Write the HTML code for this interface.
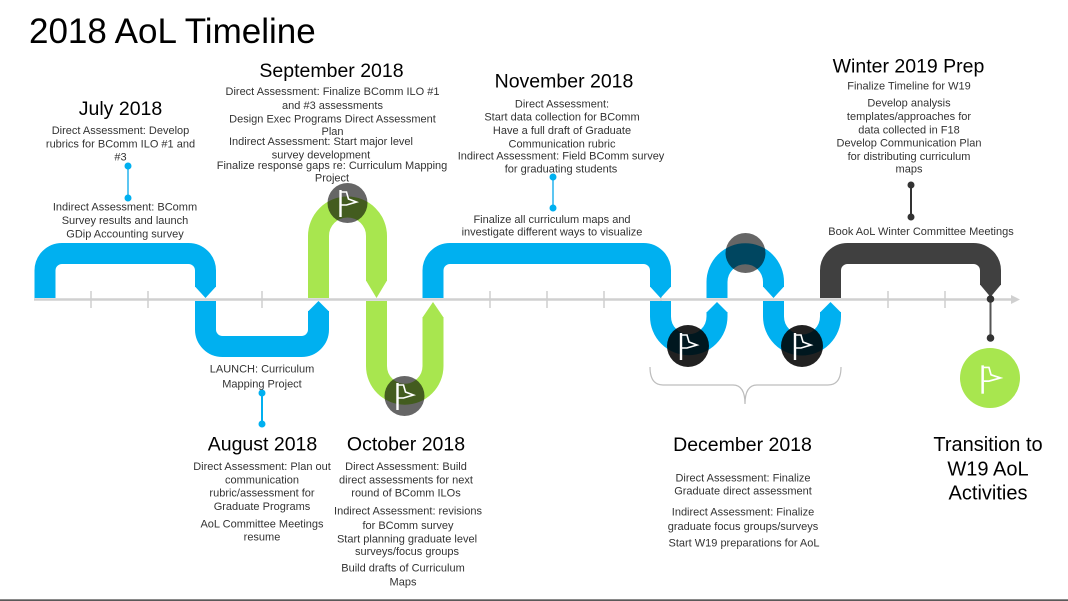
<!DOCTYPE html>
<html>
<head>
<meta charset="utf-8">
<style>
html,body{margin:0;padding:0;background:#fff;}
body{width:1068px;height:601px;overflow:hidden;position:relative;}
svg{position:absolute;left:0;top:0;}
text{font-family:"Liberation Sans",Arial,sans-serif;}
.b{font-size:11px;fill:#333;text-anchor:middle;}
.h{font-size:19.5px;fill:#000;text-anchor:middle;}
</style>
</head>
<body>
<svg width="1068" height="601" viewBox="0 0 1068 601" xmlns="http://www.w3.org/2000/svg">
  <!-- title -->
  <text x="29" y="43" style="font-size:35px;fill:#000;">2018 AoL Timeline</text>

  <!-- ticks -->
  <g stroke="#cfcfcf" stroke-width="1.5">
    <line x1="91" y1="291" x2="91" y2="308"/>
    <line x1="148" y1="291" x2="148" y2="308"/>
    <line x1="262" y1="291" x2="262" y2="308"/>
    <line x1="490" y1="291" x2="490" y2="308"/>
    <line x1="547" y1="291" x2="547" y2="308"/>
    <line x1="604" y1="291" x2="604" y2="308"/>
    <line x1="661" y1="291" x2="661" y2="308"/>
    <line x1="888" y1="291" x2="888" y2="308"/>
    <line x1="945" y1="291" x2="945" y2="308"/>
  </g>

  <!-- axis -->
  <line x1="34" y1="299.5" x2="1012" y2="299.5" stroke="#d0d0d0" stroke-width="2.6"/>
  <polygon points="1011,295 1020,299.5 1011,304" fill="#d0d0d0"/>

  <!-- pipes -->
  <g fill="none" stroke-width="21" stroke-linecap="butt">
    <path d="M45,298 V270.5 A17,17 0 0 1 62,253.5 H188.5 A17,17 0 0 1 205.5,270.5 V287" stroke="#00b0f0"/>
    <path d="M205.5,301 V329.5 A17,17 0 0 0 222.5,346.5 H301.5 A17,17 0 0 0 318.5,329.5 V311" stroke="#00b0f0"/>
    <path d="M318.5,298 V236 A29,29 0 0 1 376.5,236 V281" stroke="#a8e64f"/>
    <path d="M376.5,301 V366 A28.25,28.25 0 0 0 433,366 V317" stroke="#a8e64f"/>
    <path d="M433,298 V270.5 A17,17 0 0 1 450,253.5 H643.5 A17,17 0 0 1 660.5,270.5 V287" stroke="#00b0f0"/>
    <path d="M660.5,301 V316.5 A28.25,28.25 0 0 0 717,316.5 V312" stroke="#00b0f0"/>
    <path d="M717,298 V282 A28.25,28.25 0 0 1 773.5,282 V287" stroke="#00b0f0"/>
    <path d="M773.5,301 V316.5 A28.5,28.5 0 0 0 830.5,316.5 V312" stroke="#00b0f0"/>
    <path d="M830.5,298 V270.5 A17,17 0 0 1 847.5,253.5 H973.5 A17,17 0 0 1 990.5,270.5 V285" stroke="#404040"/>
  </g>
  <!-- pointed ends -->
  <polygon points="195,286.5 216,286.5 205.5,298" fill="#00b0f0"/>
  <polygon points="308,311.5 329,311.5 318.5,301" fill="#00b0f0"/>
  <polygon points="366,280.5 387,280.5 376.5,298" fill="#a8e64f"/>
  <polygon points="422.5,317.5 443.5,317.5 433,302" fill="#a8e64f"/>
  <polygon points="650,286.5 671,286.5 660.5,298" fill="#00b0f0"/>
  <polygon points="706.5,312.5 727.5,312.5 717,302" fill="#00b0f0"/>
  <polygon points="763,286.5 784,286.5 773.5,298" fill="#00b0f0"/>
  <polygon points="820,312.5 841,312.5 830.5,302" fill="#00b0f0"/>
  <polygon points="980,284.5 1001,284.5 990.5,297" fill="#404040"/>

  <!-- circles -->
  <circle cx="347.5" cy="203" r="20" fill="#000" fill-opacity="0.6"/>
  <circle cx="404.5" cy="396" r="20" fill="#000" fill-opacity="0.6"/>
  <circle cx="745.5" cy="253" r="20" fill="#000" fill-opacity="0.6"/>
  <circle cx="688" cy="346" r="21" fill="#000" fill-opacity="0.87"/>
  <circle cx="802" cy="346" r="21" fill="#000" fill-opacity="0.87"/>
  <circle cx="990" cy="378" r="30" fill="#a8e64f"/>

  <!-- flags -->
  <g fill="none" stroke="#fff" stroke-width="1.6" stroke-linejoin="miter">
    <g transform="translate(347.5,203)">
      <line x1="-7" y1="-13" x2="-7" y2="14" stroke-width="2.4"/>
      <path d="M-6,-11 L-1,-11 L1,-4 L9,-1 L-1,2 L-6,2"/>
    </g>
    <g transform="translate(404.5,396)">
      <line x1="-7" y1="-13" x2="-7" y2="14" stroke-width="2.4"/>
      <path d="M-6,-11 L-1,-11 L1,-4 L9,-1 L-1,2 L-6,2"/>
    </g>
    <g transform="translate(688,346)">
      <line x1="-7" y1="-13" x2="-7" y2="14" stroke-width="2.4"/>
      <path d="M-6,-11 L-1,-11 L1,-4 L9,-1 L-1,2 L-6,2"/>
    </g>
    <g transform="translate(802,346)">
      <line x1="-7" y1="-13" x2="-7" y2="14" stroke-width="2.4"/>
      <path d="M-6,-11 L-1,-11 L1,-4 L9,-1 L-1,2 L-6,2"/>
    </g>
    <g transform="translate(990,379) scale(1.05)">
      <line x1="-7" y1="-13" x2="-7" y2="14" stroke-width="2.4"/>
      <path d="M-6,-11 L-1,-11 L1,-4 L10,-1 L-1,2 L-6,2"/>
    </g>
  </g>

  <!-- connectors -->
  <line x1="128" y1="166" x2="128" y2="198" stroke="#5cc6f2" stroke-width="2"/>
  <circle cx="128" cy="166" r="3.5" fill="#00b0f0"/>
  <circle cx="128" cy="198" r="3.5" fill="#00b0f0"/>

  <line x1="262" y1="393" x2="262" y2="424" stroke="#00b0f0" stroke-width="2"/>
  <circle cx="262" cy="393" r="3.5" fill="#00b0f0"/>
  <circle cx="262" cy="424" r="3.5" fill="#00b0f0"/>

  <line x1="553" y1="177" x2="553" y2="208" stroke="#5cc6f2" stroke-width="2"/>
  <circle cx="553" cy="177" r="3.5" fill="#00b0f0"/>
  <circle cx="553" cy="208" r="3.5" fill="#00b0f0"/>

  <line x1="911" y1="185" x2="911" y2="217" stroke="#333" stroke-width="2"/>
  <circle cx="911" cy="185" r="3.5" fill="#333"/>
  <circle cx="911" cy="217" r="3.5" fill="#333"/>

  <line x1="990.5" y1="299" x2="990.5" y2="338" stroke="#555" stroke-width="2"/>
  <circle cx="990.5" cy="299" r="3.8" fill="#333"/>
  <circle cx="990.5" cy="338" r="3.8" fill="#333"/>

  <!-- brace -->
  <path d="M650,367 Q650,385 663,385 L733,385 Q745,385 745,404 Q745,385 757,385 L828,385 Q841,385 841,367" fill="none" stroke="#bdbdbd" stroke-width="1.2"/>

  <!-- July -->
  <text class="h" x="120.5" y="115">July 2018</text>
  <text class="b" x="120.5" y="134">Direct Assessment: Develop</text>
  <text class="b" x="120.5" y="147.3">rubrics for BComm ILO #1 and</text>
  <text class="b" x="120.5" y="160.7">#3</text>
  <text class="b" x="125" y="210.7">Indirect Assessment: BComm</text>
  <text class="b" x="125" y="224">Survey results and launch</text>
  <text class="b" x="125" y="237.3">GDip Accounting survey</text>

  <!-- September -->
  <text class="h" x="331.5" y="77">September 2018</text>
  <text class="b" x="332.5" y="95">Direct Assessment: Finalize BComm ILO #1</text>
  <text class="b" x="332.5" y="109">and #3 assessments</text>
  <text class="b" x="332.5" y="122.3">Design Exec Programs Direct Assessment</text>
  <text class="b" x="332.5" y="135">Plan</text>
  <text class="b" x="321" y="145">Indirect Assessment: Start major level</text>
  <text class="b" x="321" y="158.3">survey development</text>
  <text class="b" x="332" y="169">Finalize response gaps re: Curriculum Mapping</text>
  <text class="b" x="332" y="181.7">Project</text>

  <!-- November -->
  <text class="h" x="564" y="87.7">November 2018</text>
  <text class="b" x="562" y="107.3">Direct Assessment:</text>
  <text class="b" x="562" y="120.7">Start data collection for BComm</text>
  <text class="b" x="562" y="134">Have a full draft of Graduate</text>
  <text class="b" x="562" y="147.3">Communication rubric</text>
  <text class="b" x="561" y="159.7">Indirect Assessment: Field BComm survey</text>
  <text class="b" x="561" y="172.3">for graduating students</text>
  <text class="b" x="552" y="223">Finalize all curriculum maps and</text>
  <text class="b" x="552" y="235.7">investigate different ways to visualize</text>

  <!-- Winter -->
  <text class="h" x="908.5" y="72.7">Winter 2019 Prep</text>
  <text class="b" x="909" y="89.7">Finalize Timeline for W19</text>
  <text class="b" x="909" y="106.7">Develop analysis</text>
  <text class="b" x="909" y="120">templates/approaches for</text>
  <text class="b" x="909" y="133.3">data collected in F18</text>
  <text class="b" x="909" y="146.7">Develop Communication Plan</text>
  <text class="b" x="909" y="160">for distributing curriculum</text>
  <text class="b" x="909" y="172.3">maps</text>
  <text class="b" x="921" y="235">Book AoL Winter Committee Meetings</text>

  <!-- August -->
  <text class="b" x="262" y="372.3">LAUNCH: Curriculum</text>
  <text class="b" x="262" y="387.3">Mapping Project</text>
  <text class="h" x="262.5" y="450.7">August 2018</text>
  <text class="b" x="262" y="470">Direct Assessment: Plan out</text>
  <text class="b" x="262" y="483.3">communication</text>
  <text class="b" x="262" y="496.7">rubric/assessment for</text>
  <text class="b" x="262" y="510">Graduate Programs</text>
  <text class="b" x="262" y="527.3">AoL Committee Meetings</text>
  <text class="b" x="262" y="540.7">resume</text>

  <!-- October -->
  <text class="h" x="406" y="450.7">October 2018</text>
  <text class="b" x="406" y="470">Direct Assessment: Build</text>
  <text class="b" x="406" y="483.3">direct assessments for next</text>
  <text class="b" x="406" y="496.7">round of BComm ILOs</text>
  <text class="b" x="408" y="514.7">Indirect Assessment: revisions</text>
  <text class="b" x="408" y="529">for BComm survey</text>
  <text class="b" x="407" y="542.3">Start planning graduate level</text>
  <text class="b" x="407" y="555">surveys/focus groups</text>
  <text class="b" x="403" y="571.7">Build drafts of Curriculum</text>
  <text class="b" x="403" y="585.7">Maps</text>

  <!-- December -->
  <text class="h" x="742.5" y="451">December 2018</text>
  <text class="b" x="743" y="481.3">Direct Assessment: Finalize</text>
  <text class="b" x="743" y="494.7">Graduate direct assessment</text>
  <text class="b" x="743" y="515.7">Indirect Assessment: Finalize</text>
  <text class="b" x="743" y="530">graduate focus groups/surveys</text>
  <text class="b" x="744" y="546.7">Start W19 preparations for AoL</text>

  <!-- Transition -->
  <text x="988" y="451" style="font-size:20px;fill:#000;text-anchor:middle;">Transition to</text>
  <text x="988" y="475.3" style="font-size:20px;fill:#000;text-anchor:middle;">W19 AoL</text>
  <text x="988" y="499.6" style="font-size:20px;fill:#000;text-anchor:middle;">Activities</text>

  <!-- bottom border -->
  <rect x="0" y="599.3" width="1068" height="1.8" fill="#595959"/>
</svg>
</body>
</html>
